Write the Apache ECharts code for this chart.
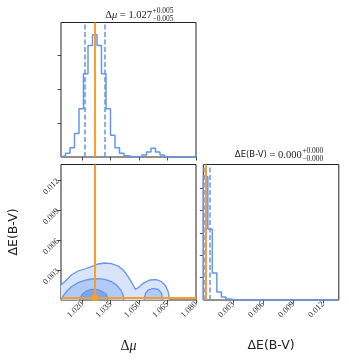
<!DOCTYPE html>
<html>
<head>
<meta charset="utf-8">
<script src="https://cdn.jsdelivr.net/npm/echarts@6/dist/echarts.min.js"></script>
<style>html,body{margin:0;padding:0;background:#fff;}#c{width:349px;height:361px;}</style>
</head>
<body>
<div id="c"></div>
<script>
// ---------- data ----------
const MU_RANGE = [1.00886, 1.080];
const EBV_RANGE = [0, 0.01355];
const MU_TICKS = [1.020, 1.035, 1.050, 1.065, 1.080];
const EBV_TICKS = [0.003, 0.006, 0.009, 0.012];
const MU_HIST_TICKS = [100, 200, 300];
const EBV_HIST_TICKS = [200, 400, 600, 800, 1000];
const MU_COUNTS = [4, 11, 27, 69, 142, 245, 328, 360, 328, 245, 142, 64, 27, 11, 4, 1, 0, 0, 6, 15, 26, 15, 6, 0, 0, 0, 0, 0, 0, 0];
const EBV_COUNTS = [1103, 634, 241, 71, 27, 9, 0, 0, 0, 0, 0, 0, 0, 0, 0, 0, 0, 0, 0, 0, 0, 0, 0, 0, 0, 0, 0, 0, 0, 0];
const MU_TRUE = 1.0268;
const EBV_TRUE = 0.00023;
const MU_QUANT = [1.0215, 1.0317];
const EBV_QUANT = [0.00003, 0.00067];
// contour curves in data coordinates (Δμ, ΔE)
const CONTOUR_OUTER = [[1.00886, 0.0015], [1.01081, 0.00183], [1.01430, 0.0025], [1.01784, 0.0029], [1.02137, 0.0031], [1.02486, 0.00333], [1.02840, 0.0036], [1.03193, 0.0037], [1.03542, 0.00363], [1.03896, 0.0034], [1.04160, 0.0030], [1.04424, 0.00233], [1.04635, 0.00167], [1.04809, 0.00107], [1.04952, 0.00123], [1.05216, 0.00167], [1.05570, 0.0020], [1.05918, 0.00203], [1.06183, 0.00183], [1.06394, 0.00143], [1.06536, 0.00083], [1.06589, 0.0002], [1.0660, 0]];
const CONTOUR_MID = [[1.00912, 0], [1.00939, 0.00023], [1.01166, 0.00083], [1.01430, 0.00133], [1.01784, 0.00173], [1.02137, 0.00197], [1.02486, 0.0021], [1.02840, 0.00213], [1.03193, 0.00207], [1.03542, 0.00183], [1.03806, 0.0015], [1.04038, 0.0010], [1.04160, 0.0005], [1.04197, 0]];
const CONTOUR_MID2 = [[1.05269, 0], [1.05337, 0.00067], [1.05480, 0.0010], [1.05744, 0.00117], [1.06008, 0.00107], [1.06183, 0.00067], [1.06235, 0]];
const CONTOUR_INNER = [[1.01873, 0], [1.01995, 0.00057], [1.02222, 0.0009], [1.02486, 0.00107], [1.02750, 0.00107], [1.03014, 0.0009], [1.03278, 0.00057], [1.03368, 0]];

// ---------- styles ----------
const BLUE = '#6495ed';
const ORANGE = '#fa9d2a';
const FILL1 = '#d8e4fa', FILL2 = '#b2caf6', FILL3 = '#7ea6ef';
const SERIF = 'Liberation Serif';
const SANS = 'DejaVu Sans';
const INK = '#222';

function stepData(counts, range) {
  const n = counts.length, w = (range[1] - range[0]) / n;
  const d = [[range[0], 0]];
  counts.forEach((c, i) => d.push([range[0] + i * w, c]));
  d.push([range[1], counts[n - 1]]);
  d.push([range[1], 0]);
  return d;
}

function axis(gridIndex, min, max, ticks, labels) {
  return {
    type: 'value', gridIndex, min, max,
    axisLine: { show: false }, splitLine: { show: false },
    axisTick: { show: true, length: 3.5, lineStyle: { color: INK, width: 0.8 }, customValues: ticks },
    axisLabel: {
      show: labels, customValues: ticks, rotate: 45, fontSize: 8.5, fontFamily: SERIF, color: INK, margin: 3,
      formatter: v => v.toFixed(3)
    }
  };
}

function vline(v, color, dashed, w) {
  return { xAxis: v, lineStyle: { color, type: dashed ? [5, 2.5] : 'solid', width: w } };
}
function marks(data) {
  return { silent: true, symbol: 'none', precision: 8, label: { show: false }, data };
}

function contourSeries(curve, closeFn, fill, z) {
  return {
    type: 'custom', coordinateSystem: 'cartesian2d', xAxisIndex: 1, yAxisIndex: 1, z,
    data: [[curve[0][0], curve[0][1]]], silent: true,
    renderItem: function (params, api) {
      const pts = curve.map(p => api.coord(p));
      const poly = pts.concat(closeFn(api));
      return { type: 'polygon', shape: { points: poly }, style: { fill: fill, stroke: null } };
    }
  };
}
function contourLine(curve, z) {
  return {
    type: 'custom', coordinateSystem: 'cartesian2d', xAxisIndex: 1, yAxisIndex: 1, z,
    data: [[curve[0][0], curve[0][1]]], silent: true,
    renderItem: function (params, api) {
      return { type: 'polyline', shape: { points: curve.map(p => api.coord(p)) }, style: { stroke: BLUE, fill: null, lineWidth: 1.3 } };
    }
  };
}

const chart = echarts.init(document.getElementById('c'), null, { renderer: 'canvas' });
const gridStyle = { show: true, borderColor: INK, borderWidth: 1, backgroundColor: 'transparent' };

const option = {
  animation: false,
  grid: [
    Object.assign({ left: 61, top: 22.5, width: 135, height: 134.5 }, gridStyle),
    Object.assign({ left: 61, top: 164.5, width: 135, height: 135.5 }, gridStyle),
    Object.assign({ left: 203.3, top: 164.5, width: 135.5, height: 135.5 }, gridStyle)
  ],
  xAxis: [
    axis(0, MU_RANGE[0], MU_RANGE[1], MU_TICKS, false),
    axis(1, MU_RANGE[0], MU_RANGE[1], MU_TICKS, true),
    axis(2, EBV_RANGE[0], EBV_RANGE[1], EBV_TICKS, true)
  ],
  yAxis: [
    axis(0, 0, 1.1 * Math.max(...MU_COUNTS), MU_HIST_TICKS, false),
    axis(1, EBV_RANGE[0], EBV_RANGE[1], EBV_TICKS, true),
    axis(2, 0, 1.1 * Math.max(...EBV_COUNTS), EBV_HIST_TICKS, false)
  ],
  series: [
    {
      type: 'line', xAxisIndex: 0, yAxisIndex: 0, step: 'end', symbol: 'none', z: 3,
      data: stepData(MU_COUNTS, MU_RANGE), lineStyle: { color: BLUE, width: 1.5 },
      markLine: marks(MU_QUANT.map(v => vline(v, BLUE, true, 1.5)))
    },
    {
      type: 'line', xAxisIndex: 0, yAxisIndex: 0, data: [], z: 5,
      markLine: marks([vline(MU_TRUE, ORANGE, false, 2)])
    },
    contourSeries(CONTOUR_OUTER, api => [api.coord([MU_RANGE[0], 0])], FILL1, 1),
    contourSeries(CONTOUR_MID, api => [], FILL2, 2),
    contourSeries(CONTOUR_MID2, api => [], FILL2, 2),
    contourSeries(CONTOUR_INNER, api => [], FILL3, 3),
    contourLine(CONTOUR_OUTER, 4),
    contourLine(CONTOUR_MID, 4),
    contourLine(CONTOUR_MID2, 4),
    contourLine(CONTOUR_INNER, 4),
    {
      type: 'line', xAxisIndex: 1, yAxisIndex: 1, z: 6, symbol: 'rect', symbolSize: 6,
      data: [[MU_TRUE, EBV_TRUE]], itemStyle: { color: ORANGE }, lineStyle: { width: 0 },
      markLine: marks([vline(MU_TRUE, ORANGE, false, 2), { yAxis: EBV_TRUE, lineStyle: { color: ORANGE, type: 'solid', width: 2 } }])
    },
    {
      type: 'line', xAxisIndex: 2, yAxisIndex: 2, step: 'end', symbol: 'none', z: 3,
      data: stepData(EBV_COUNTS, EBV_RANGE), lineStyle: { color: BLUE, width: 1.5 },
      markLine: marks(EBV_QUANT.map(v => vline(v, BLUE, true, 1.5)))
    },
    {
      type: 'line', xAxisIndex: 2, yAxisIndex: 2, data: [], z: 5,
      markLine: marks([vline(EBV_TRUE, ORANGE, false, 2)])
    }
  ],
  graphic: [
    { type: 'text', x: 152, y: 15, style: { text: '{n|Δ}{i|μ}{n| = 1.027}', align: 'right', verticalAlign: 'middle',
      rich: { n: { fontFamily: SERIF, fontSize: 10.5, fill: INK }, i: { fontFamily: SERIF, fontStyle: 'italic', fontSize: 10.5, fill: INK } } } },
    { type: 'text', x: 152.5, y: 11, style: { text: '+0.005', fontFamily: SERIF, fontSize: 7.5, fill: INK, align: 'left', verticalAlign: 'middle' } },
    { type: 'text', x: 152.5, y: 19.5, style: { text: '−0.005', fontFamily: SERIF, fontSize: 7.5, fill: INK, align: 'left', verticalAlign: 'middle' } },
    { type: 'text', x: 301.7, y: 155, style: { text: '{s|ΔE(B-V)}{n| = 0.000}', align: 'right', verticalAlign: 'middle',
      rich: { s: { fontFamily: SANS, fontSize: 8.5, fill: INK }, n: { fontFamily: SERIF, fontSize: 10.5, fill: INK } } } },
    { type: 'text', x: 302.2, y: 151, style: { text: '+0.000', fontFamily: SERIF, fontSize: 7.5, fill: INK, align: 'left', verticalAlign: 'middle' } },
    { type: 'text', x: 302.2, y: 159.5, style: { text: '−0.000', fontFamily: SERIF, fontSize: 7.5, fill: INK, align: 'left', verticalAlign: 'middle' } },
    { type: 'text', x: 128.5, y: 346, style: { text: '{n|Δ}{i|μ}', align: 'center', verticalAlign: 'middle',
      rich: { n: { fontFamily: SERIF, fontSize: 14, fill: INK }, i: { fontFamily: SERIF, fontStyle: 'italic', fontSize: 14, fill: INK } } } },
    { type: 'text', x: 14, y: 232, rotation: Math.PI / 2, style: { text: 'ΔE(B-V)', fontFamily: SANS, fontSize: 12.5, fill: INK, align: 'center', verticalAlign: 'middle' } },
    { type: 'text', x: 271, y: 346, style: { text: 'ΔE(B-V)', fontFamily: SANS, fontSize: 12.5, fill: INK, align: 'center', verticalAlign: 'middle' } }
  ]
};
chart.setOption(option);
</script>
</body>
</html>
